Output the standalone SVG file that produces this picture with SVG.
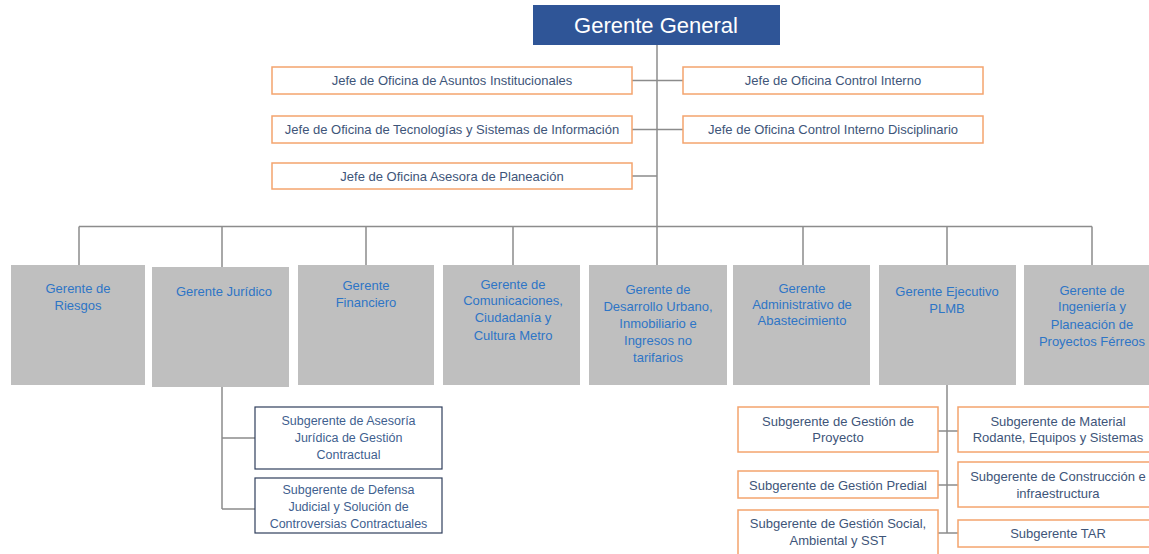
<svg xmlns="http://www.w3.org/2000/svg" width="1149" height="554" viewBox="0 0 1149 554">
<style>
text{font-family:"Liberation Sans",Arial,sans-serif;text-anchor:middle}
.top{fill:#2F5597}
.toptx{fill:#fff;font-size:22px}
.jefe{fill:#fff;stroke:#F4A46E;stroke-width:1.5}
.jtx{fill:#3E5579;font-size:13px}
.ger{fill:#BFBFBF}
.gtx{fill:#2E75C6;font-size:13px}
.subl{fill:#fff;stroke:#2F3E5C;stroke-width:1.2}
.sltx{fill:#3F5F8F;font-size:12.5px}
.subr{fill:#fff;stroke:#F4A46E;stroke-width:1.5}
.srtx{fill:#3E5579;font-size:13px}
.con{fill:none;stroke:#8C8C8C;stroke-width:1.5}
</style>
<rect width="1149" height="554" fill="#fff"/>
<g id="connectors">
<path class="con" d="M657 45V226.5"/>
<path class="con" d="M632 80.5H683M632 129.5H683M632 176H657"/>
<path class="con" d="M79 226.5H1092"/>
<path class="con" d="M79 226.5V265M222 226.5V267M366 226.5V265M513 226.5V265M657 226.5V265M803 226.5V265M947 226.5V265M1092 226.5V265"/>
<path class="con" d="M222 387V509M222 438H255M222 509H255"/>
<path class="con" d="M947 385V533M938 431H958M938 485H958M938 533H958"/>
</g>
<g id="gerente-general">
<rect class="top" x="533" y="5" width="247" height="40"/>
<text class="toptx" x="656" y="33">Gerente General</text>
</g>
<g id="jefe-asuntos">
<rect class="jefe" x="272" y="67" width="360" height="27"/>
<text class="jtx" x="452" y="85">Jefe de Oficina de Asuntos Institucionales</text>
</g>
<g id="jefe-control">
<rect class="jefe" x="683" y="67" width="300" height="27"/>
<text class="jtx" x="833" y="85">Jefe de Oficina Control Interno</text>
</g>
<g id="jefe-tecnologias">
<rect class="jefe" x="272" y="116" width="360" height="27"/>
<text class="jtx" x="452" y="134">Jefe de Oficina de Tecnologías y Sistemas de Información</text>
</g>
<g id="jefe-disciplinario">
<rect class="jefe" x="683" y="116" width="300" height="27"/>
<text class="jtx" x="833" y="134">Jefe de Oficina Control Interno Disciplinario</text>
</g>
<g id="jefe-planeacion">
<rect class="jefe" x="272" y="163" width="360" height="26"/>
<text class="jtx" x="452" y="180.5">Jefe de Oficina Asesora de Planeación</text>
</g>
<g id="g-riesgos">
<rect class="ger" x="11" y="265" width="134" height="120"/>
<text class="gtx" x="78"><tspan x="78" y="293">Gerente de</tspan><tspan x="78" y="309.5">Riesgos</tspan></text>
</g>
<g id="g-juridico">
<rect class="ger" x="152" y="267" width="137" height="120"/>
<text class="gtx" x="224" y="296">Gerente Jurídico</text>
</g>
<g id="g-financiero">
<rect class="ger" x="298" y="265" width="136" height="120"/>
<text class="gtx"><tspan x="366" y="290">Gerente</tspan><tspan x="366" y="306.5">Financiero</tspan></text>
</g>
<g id="g-comunicaciones">
<rect class="ger" x="443" y="265" width="137" height="120"/>
<text class="gtx"><tspan x="513" y="288.5">Gerente de</tspan><tspan x="513" y="305">Comunicaciones,</tspan><tspan x="513" y="322">Ciudadanía y</tspan><tspan x="513" y="339.5">Cultura Metro</tspan></text>
</g>
<g id="g-desarrollo">
<rect class="ger" x="589" y="265" width="138" height="120"/>
<text class="gtx"><tspan x="658" y="293.5">Gerente de</tspan><tspan x="658" y="310.5">Desarrollo Urbano,</tspan><tspan x="658" y="327.5">Inmobiliario e</tspan><tspan x="658" y="345">Ingresos no</tspan><tspan x="658" y="361.5">tarifarios</tspan></text>
</g>
<g id="g-administrativo">
<rect class="ger" x="733" y="265" width="137" height="120"/>
<text class="gtx"><tspan x="802" y="292.5">Gerente</tspan><tspan x="802" y="308.5">Administrativo de</tspan><tspan x="802" y="325">Abastecimiento</tspan></text>
</g>
<g id="g-ejecutivo">
<rect class="ger" x="879" y="265" width="137" height="120"/>
<text class="gtx"><tspan x="947" y="296">Gerente Ejecutivo</tspan><tspan x="947" y="312.5">PLMB</tspan></text>
</g>
<g id="g-ingenieria">
<rect class="ger" x="1024" y="265" width="137" height="120"/>
<text class="gtx"><tspan x="1092" y="294.5">Gerente de</tspan><tspan x="1092" y="311">Ingeniería y</tspan><tspan x="1092" y="328.5">Planeación de</tspan><tspan x="1092" y="346">Proyectos Férreos</tspan></text>
</g>
<g id="s-asesoria">
<rect class="subl" x="255" y="407" width="187" height="62"/>
<text class="sltx"><tspan x="348.5" y="424.5">Subgerente de Asesoría</tspan><tspan x="348.5" y="441.5">Jurídica de Gestión</tspan><tspan x="348.5" y="458.5">Contractual</tspan></text>
</g>
<g id="s-defensa">
<rect class="subl" x="255" y="478" width="187" height="55"/>
<text class="sltx"><tspan x="348.5" y="493.5">Subgerente de Defensa</tspan><tspan x="348.5" y="511">Judicial y Solución de</tspan><tspan x="348.5" y="527.5">Controversias Contractuales</tspan></text>
</g>
<g id="s-proyecto">
<rect class="subr" x="738" y="407" width="200" height="45"/>
<text class="srtx"><tspan x="838" y="425.5">Subgerente de Gestión de</tspan><tspan x="838" y="442">Proyecto</tspan></text>
</g>
<g id="s-material">
<rect class="subr" x="958" y="407" width="200" height="45"/>
<text class="srtx"><tspan x="1058" y="425.5">Subgerente de Material</tspan><tspan x="1058" y="442">Rodante, Equipos y Sistemas</tspan></text>
</g>
<g id="s-predial">
<rect class="subr" x="738" y="471" width="200" height="27"/>
<text class="srtx" x="838" y="489.5">Subgerente de Gestión Predial</text>
</g>
<g id="s-construccion">
<rect class="subr" x="958" y="462" width="200" height="45"/>
<text class="srtx"><tspan x="1058" y="481">Subgerente de Construcción e</tspan><tspan x="1058" y="498">infraestructura</tspan></text>
</g>
<g id="s-social">
<rect class="subr" x="738" y="510" width="200" height="52"/>
<text class="srtx"><tspan x="838" y="527.5">Subgerente de Gestión Social,</tspan><tspan x="838" y="544.5">Ambiental y SST</tspan></text>
</g>
<g id="s-tar">
<rect class="subr" x="958" y="520" width="200" height="27"/>
<text class="srtx" x="1058" y="537.5">Subgerente TAR</text>
</g>
</svg>
